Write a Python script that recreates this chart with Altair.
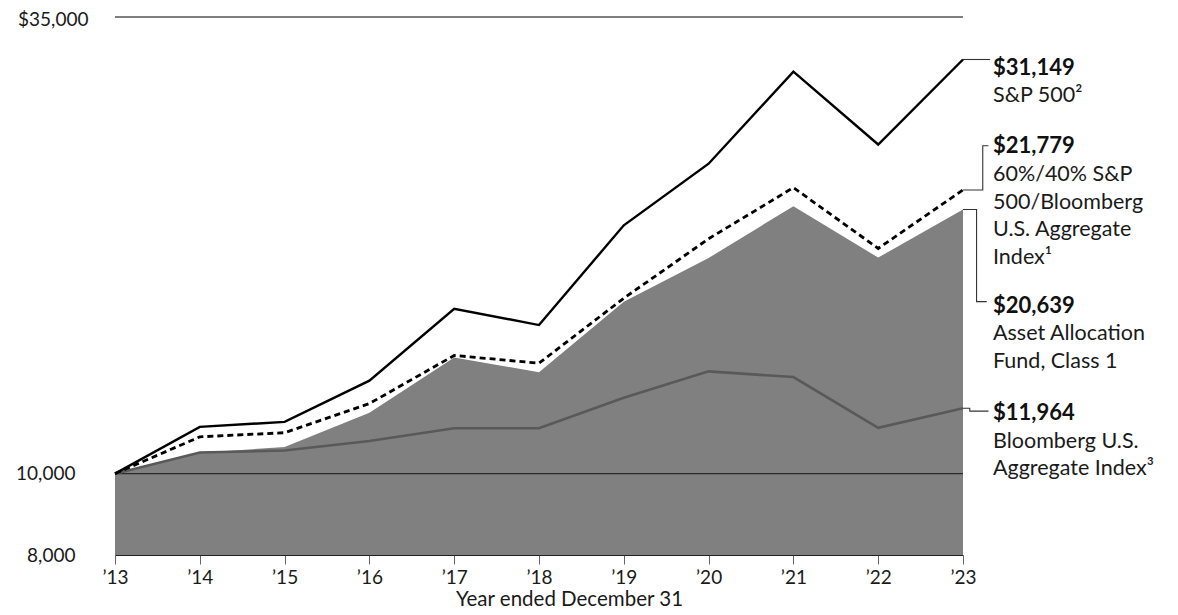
import altair as alt
import pandas as pd

# ---- data ----
years = [2013, 2014, 2015, 2016, 2017, 2018, 2019, 2020, 2021, 2022, 2023]
fund = [10000, 10590, 10757, 11815, 13750, 13210, 16030, 18070, 20830, 18090, 20639]
blend = [10000, 11062, 11190, 12121, 13830, 13540, 16180, 19050, 21920, 18550, 21779]
sp500 = [10000, 11369, 11526, 12905, 15722, 15033, 19767, 23404, 30123, 24668, 31149]
bbg = [10000, 10597, 10655, 10938, 11325, 11326, 12314, 13239, 13035, 11339, 11964]

y_ticks = [8000, 10000, 35000]

series_names = ["sp500", "blend", "fund", "bbg"]
end_values = [31149, 21779, 20639, 11964]
value_labels = ["$31,149", "$21,779", "$20,639", "$11,964"]
name_labels = [
    "S&P 500\u00b2",
    "60%/40% S&P\n500/Bloomberg\nU.S. Aggregate\nIndex\u00b9",
    "Asset Allocation\nFund, Class 1",
    "Bloomberg U.S.\nAggregate Index\u00b3",
]
label_anchor = [30530, 24610, 15890, 11840]     # where each label block sits
connector_y = [31149, 24590, 16030, 11870]      # where each leader line meets its label
connector_knee = [2023.26, 2023.233, 2023.16, 2023.08]
connector_tip = [2023.32, 2023.3, 2023.28, 2023.3]

FONT = "Lato"
TXT = "#1a1a1a"

df = pd.DataFrame({"year": years, "fund": fund, "blend": blend, "sp500": sp500, "bbg": bbg})

xs = alt.Scale(domain=[2013, 2023], nice=False, zero=False)
ys = alt.Scale(type="log", domain=[8000, 35000], nice=False)

x_axis = alt.Axis(
    values=years, format="d", labelExpr="'\u2019' + substring(datum.label, 2)",
    title="Year ended December 31", grid=False, domainColor="#222", domainWidth=1.2,
    tickColor="#666", tickSize=9, tickWidth=1, labelFontSize=19, labelFont=FONT,
    labelColor=TXT, labelPadding=4, titleFontSize=20.5, titleFont=FONT,
    titleFontWeight="normal", titleColor=TXT, titleX=454, titleY=50,
    titleAlign="center", titleBaseline="alphabetic", labelFlush=False,
)
y_axis = alt.Axis(
    values=y_ticks,
    labelExpr="datum.value == 35000 ? '$35,000' : format(datum.value, ',')",
    title=None, domain=False, ticks=False, grid=False, labelFontSize=19,
    labelFont=FONT, labelColor=TXT,
    labelPadding={"condition": {"test": "datum.value == 35000", "value": 27}, "value": 40},
    labelOffset={"condition": {"test": "datum.value == 35000", "value": 2}, "value": 0},
)

base = alt.Chart(df)

area = base.mark_area(color="#808080", opacity=1).encode(
    x=alt.X("year:Q", scale=xs, axis=x_axis),
    y=alt.Y("fund:Q", scale=ys, axis=y_axis),
    y2=alt.datum(8000),
)

rules_df = pd.DataFrame({"v": [10000]})
rule10k = alt.Chart(rules_df).mark_rule(color="#2a2a2a", strokeWidth=1.2).encode(
    y=alt.Y("v:Q", scale=ys)
)
top_df = pd.DataFrame({"v": [35000]})
rule35k = alt.Chart(top_df).mark_rule(color="#555", strokeWidth=1.3).encode(
    y=alt.Y("v:Q", scale=ys)
)

line_bbg = base.mark_line(color="#595959", strokeWidth=2.6).encode(
    x=alt.X("year:Q", scale=xs), y=alt.Y("bbg:Q", scale=ys))
line_blend = base.mark_line(color="#000", strokeWidth=2.8, strokeDash=[6, 4]).encode(
    x=alt.X("year:Q", scale=xs), y=alt.Y("blend:Q", scale=ys))
line_sp = base.mark_line(color="#000", strokeWidth=2.4).encode(
    x=alt.X("year:Q", scale=xs), y=alt.Y("sp500:Q", scale=ys))

# leader lines
rows = []
for s, ev, cy, kx, tx in zip(series_names, end_values, connector_y, connector_knee, connector_tip):
    rows += [
        {"s": s, "o": 0, "x": 2023, "y": ev},
        {"s": s, "o": 1, "x": kx, "y": ev},
        {"s": s, "o": 2, "x": kx, "y": cy},
        {"s": s, "o": 3, "x": tx, "y": cy},
    ]
conn = alt.Chart(pd.DataFrame(rows)).mark_line(color="#333", strokeWidth=1.1).encode(
    x=alt.X("x:Q", scale=xs), y=alt.Y("y:Q", scale=ys), detail="s:N", order="o:Q")

lab_df = pd.DataFrame({
    "x": [2023] * 4, "y": label_anchor, "v": value_labels, "n": name_labels,
})
val_txt = alt.Chart(lab_df).mark_text(
    align="left", baseline="alphabetic", dx=30, dy=8, font=FONT,
    fontSize=22, fontWeight="bold", color="#111"
).encode(x=alt.X("x:Q", scale=xs), y=alt.Y("y:Q", scale=ys), text="v:N")
name_txt = alt.Chart(lab_df).mark_text(
    align="left", baseline="alphabetic", dx=30, dy=35.5, font=FONT,
    fontSize=21.5, lineHeight=27.7, lineBreak="\n", color=TXT
).encode(x=alt.X("x:Q", scale=xs), y=alt.Y("y:Q", scale=ys), text="n:N")

chart = alt.layer(
    area, rule10k, rule35k, line_bbg, line_blend, line_sp, conn, val_txt, name_txt
).properties(
    width=848, height=538,
    autosize=alt.AutoSizeParams(type="none"),
    padding={"left": 107, "top": 9, "right": 205, "bottom": 58},
    background="white",
).configure_view(strokeWidth=0, stroke="transparent")

chart.save("out.html", embed_options={"renderer": "svg", "actions": False})
